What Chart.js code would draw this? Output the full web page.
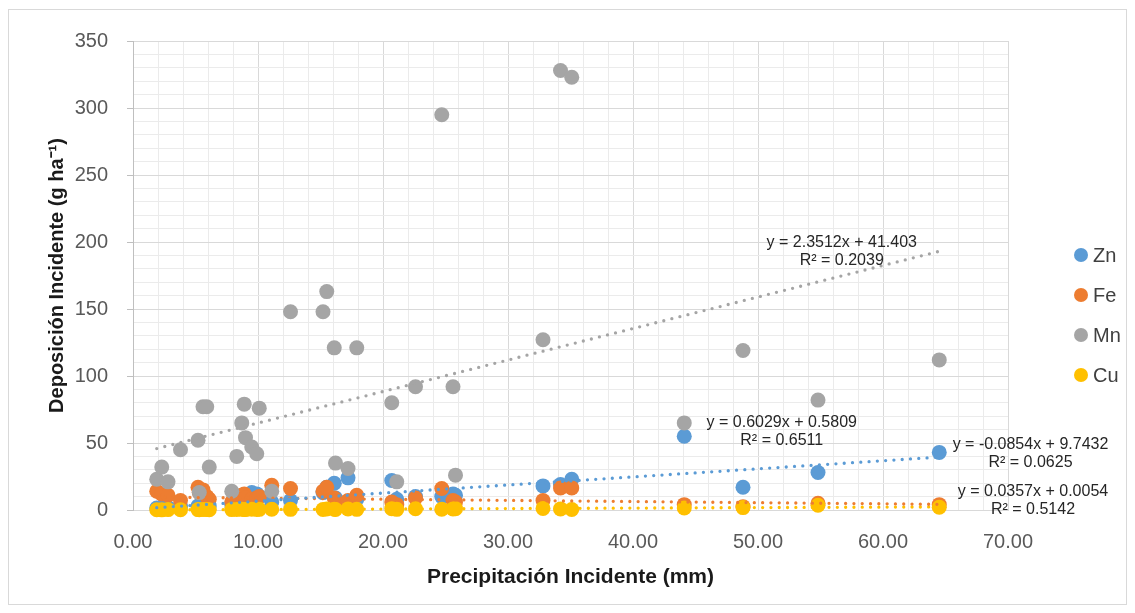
<!DOCTYPE html>
<html>
<head>
<meta charset="utf-8">
<title>Deposición incidente de micronutrientes</title>
<script src="https://cdn.jsdelivr.net/npm/chart.js@4.4.0/dist/chart.umd.min.js"></script>
<style>
  html, body { margin: 0; padding: 0; background: #ffffff; }
  #wrap { position: relative; width: 1135px; height: 613px; }
  #frame { position: absolute; left: 8px; top: 9px; width: 1119px; height: 596px;
           border: 1px solid #d9d9d9; box-sizing: border-box; }
  #chart { position: absolute; left: 0; top: 0; }
</style>
</head>
<body>
<div id="wrap">
  <div id="frame"></div>
  <canvas id="chart" width="1135" height="613"></canvas>
</div>
<script>
// Precipitación incidente (mm) de cada muestreo
const precipitacion = [1.9, 2.3, 2.8, 3.8, 5.2, 5.3, 5.6, 5.9, 6.1, 7.9,
                       8.3, 8.7, 8.9, 9.0, 9.5, 9.9, 10.1, 11.1, 12.6, 15.2,
                       15.5, 16.1, 16.2, 17.2, 17.9, 20.7, 21.1, 22.6, 24.7, 25.6,
                       25.8, 32.8, 34.2, 35.1, 44.1, 48.8, 54.8, 64.5];

// Deposición incidente (g ha-1) por elemento
const zn = [1.5, 2.0, 1.8, 2.5, 3.0, 2.2, 3.5, 4.0, 3.0, 4.0,
            5.0, 6.0, 7.0, 6.0, 13.0, 12.0, 10.0, 6.0, 7.0, 13.0,
            17.0, 20.0, 9.0, 24.0, 8.0, 22.0, 8.0, 10.0, 10.0, 12.0,
            11.0, 18.0, 19.0, 23.0, 55.0, 17.0, 28.0, 43.0];
const fe = [14, 12, 11, 7, 17, 13, 15, 10, 8, 6,
            8, 11, 12, 9, 8, 9, 10, 18.5, 16, 14,
            17, 9, 6, 7, 11, 6, 4, 9, 16, 7,
            6, 7, 16.5, 16.5, 4, 2.5, 5, 4];
const mn = [23, 32, 21, 45, 52, 13, 77, 77, 32, 14,
            40, 65, 79, 54, 47, 42, 76, 14, 148, 148,
            163, 121, 35, 31, 121, 80, 21, 92, 295, 92,
            26, 127, 328, 323, 65, 119, 82, 112];
const cu = [0.2, 0.1, 0.3, 0.2, 0.3, 0.2, 0.4, 0.3, 0.2, 0.3,
            0.4, 0.5, 0.4, 0.3, 0.6, 0.4, 0.5, 0.6, 0.5, 0.4,
            0.7, 0.6, 0.4, 0.8, 0.5, 1.0, 0.5, 0.9, 0.6, 0.8,
            1.0, 1.2, 0.8, 0.4, 1.5, 1.8, 3.5, 2.0];

const elementos = ['Zn', 'Fe', 'Mn', 'Cu'];
const valores = [zn, fe, mn, cu];
const colores = ['#5B9BD5', '#ED7D31', '#A5A5A5', '#FFC000'];

// Ajustes lineares (y = a·x + b) y su R²
const pendientes = [0.6029, -0.0854, 2.3512, 0.0357];
const interceptos = [0.5809, 9.7432, 41.403, 0.0054];
const r2 = ['0.6511', '0.0625', '0.2039', '0.5142'];

// Posición (en unidades de los ejes) del rótulo de cada ecuación
const rotuloX = [51.9, 71.8, 56.7, 72.0];
const rotuloY = [64.9, 48.5, 199.3, 13.4];

const xTicks = [0, 10, 20, 30, 40, 50, 60, 70];
const yTicks = [0, 50, 100, 150, 200, 250, 300, 350];

const FAMILY = "'Liberation Sans', Arial, Helvetica, sans-serif";
Chart.defaults.font.family = FAMILY;

const xMin = Math.min(...precipitacion);
const xMax = Math.max(...precipitacion);

// Capa de dibujo: Cu encima, luego Mn, Fe y Zn; las tendencias sobre todo
const capa = { Zn: 4, Fe: 3, Mn: 2, Cu: 1 };

const puntos = elementos.map((nombre, i) => ({
  label: nombre,
  data: precipitacion.map((x, k) => ({ x: x, y: valores[i][k] })),
  backgroundColor: colores[i],
  borderColor: colores[i],
  borderWidth: 0,
  pointRadius: 7.5,
  pointHoverRadius: 7.5,
  clip: false,
  order: capa[nombre]
}));

const tendencias = elementos.map((nombre, i) => ({
  label: 'Lineal (' + nombre + ')',
  esTendencia: true,
  data: [xMin, xMax].map(x => ({ x: x, y: pendientes[i] * x + interceptos[i] })),
  showLine: true,
  borderColor: colores[i],
  backgroundColor: colores[i],
  borderWidth: 3.3,
  borderDash: [0, 8.3],
  borderCapStyle: 'round',
  pointRadius: 0,
  pointHoverRadius: 0,
  clip: false,
  order: 0
}));

const ecuacion = i => {
  const b = interceptos[i];
  const signo = b < 0 ? ' - ' : ' + ';
  return 'y = ' + String(pendientes[i]) + 'x' + signo + String(Math.abs(b));
};

// Rótulos de las ecuaciones de tendencia
const rotulosTendencia = {
  id: 'rotulosTendencia',
  afterDatasetsDraw(chart, args, opts) {
    const { ctx, scales } = chart;
    ctx.save();
    ctx.font = opts.size + 'px ' + FAMILY;
    ctx.fillStyle = opts.color;
    ctx.textAlign = 'center';
    ctx.textBaseline = 'middle';
    elementos.forEach((_, i) => {
      const px = scales.x.getPixelForValue(rotuloX[i]);
      const py = scales.y.getPixelForValue(rotuloY[i]);
      ctx.fillText(ecuacion(i), px, py);
      ctx.fillText('R² = ' + r2[i], px, py + opts.lineGap);
    });
    ctx.restore();
  }
};

// Leyenda de series a la derecha del área de trazado
const leyendaSeries = {
  id: 'leyendaSeries',
  afterDraw(chart, args, opts) {
    const { ctx } = chart;
    ctx.save();
    ctx.font = opts.size + 'px ' + FAMILY;
    ctx.textAlign = 'left';
    ctx.textBaseline = 'middle';
    chart.data.datasets.filter(d => !d.esTendencia).forEach((d, i) => {
      const cy = opts.top + i * opts.gap;
      ctx.fillStyle = d.backgroundColor;
      ctx.beginPath();
      ctx.arc(opts.left, cy, opts.radius, 0, Math.PI * 2);
      ctx.fill();
      ctx.fillStyle = opts.color;
      ctx.fillText(d.label, opts.left + opts.textOffset, cy + 1);
    });
    ctx.restore();
  }
};

const esMultiplo = (v, m) => Math.abs(v / m - Math.round(v / m)) < 1e-6;

new Chart(document.getElementById('chart'), {
  type: 'scatter',
  data: { datasets: puntos.concat(tendencias) },
  options: {
    responsive: false,
    animation: false,
    devicePixelRatio: 1,
    layout: { padding: { left: 0, top: 41, right: 127, bottom: 10 } },
    plugins: {
      legend: { display: false },
      tooltip: { enabled: false },
      rotulosTendencia: { size: 16, color: '#262626', lineGap: 18 },
      leyendaSeries: { left: 1081, top: 255, gap: 40, radius: 7, textOffset: 12, size: 20, color: '#404040' }
    },
    scales: {
      x: {
        type: 'linear',
        min: 0,
        max: 70,
        afterFit(scale) { scale.height = 93; },
        ticks: {
          stepSize: 2,
          autoSkip: false,
          maxRotation: 0,
          padding: 20,
          color: '#595959',
          font: { size: 20 },
          callback: v => (xTicks.includes(Math.round(v)) && esMultiplo(v, 10)) ? Number(v).toFixed(2) : ''
        },
        grid: {
          drawTicks: false,
          lineWidth: 1,
          color: c => esMultiplo(c.tick.value, 10) ? '#d9d9d9' : '#ebebeb'
        },
        border: { color: '#d9d9d9' },
        title: {
          display: true,
          text: 'Precipitación Incidente (mm)',
          color: '#1a1a1a',
          font: { size: 21, weight: 'bold' },
          padding: { top: 0, bottom: 13.4 }
        }
      },
      y: {
        type: 'linear',
        min: 0,
        max: 350,
        afterFit(scale) { scale.width = 133; },
        ticks: {
          stepSize: 10,
          autoSkip: false,
          padding: 19,
          color: '#595959',
          font: { size: 20 },
          callback: v => (yTicks.includes(Math.round(v)) && esMultiplo(v, 50)) ? String(Math.round(v)) : ''
        },
        grid: {
          drawTicks: true,
          tickLength: 6,
          lineWidth: 1,
          color: c => esMultiplo(c.tick.value, 50) ? '#d9d9d9' : '#ebebeb',
          tickColor: c => esMultiplo(c.tick.value, 50) ? '#bfbfbf' : 'rgba(0,0,0,0)'
        },
        border: { color: '#bfbfbf' },
        title: {
          display: true,
          text: 'Deposición Incidente (g ha⁻¹)',
          color: '#1a1a1a',
          font: { size: 20, weight: 'bold' },
          padding: { top: 45, bottom: 0 }
        }
      }
    }
  },
  plugins: [rotulosTendencia, leyendaSeries]
});
</script>
</body>
</html>
